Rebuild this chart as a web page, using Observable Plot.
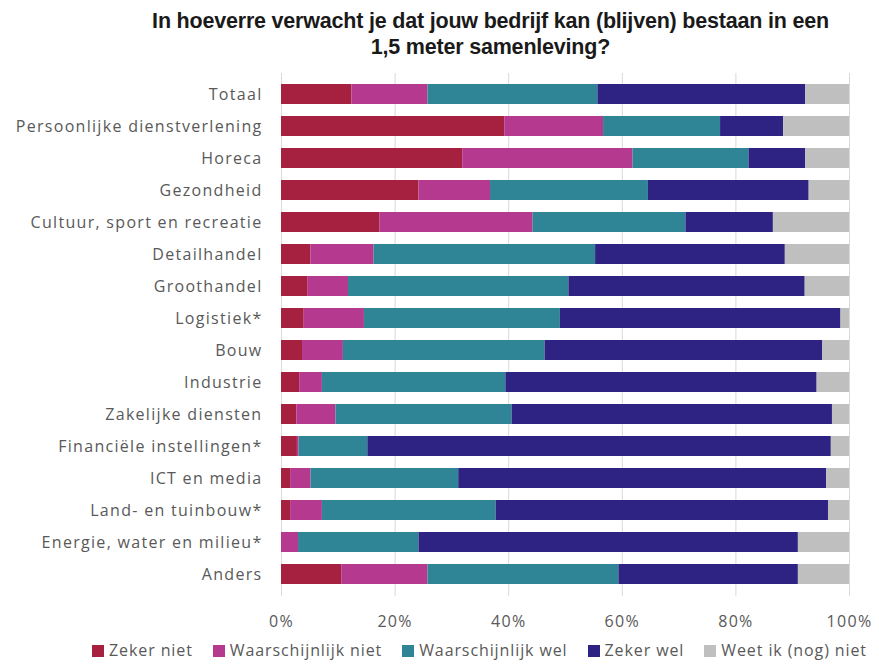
<!DOCTYPE html>
<html>
<head>
<meta charset="utf-8">
<script src="https://cdn.jsdelivr.net/npm/d3@7"></script>
<script src="https://cdn.jsdelivr.net/npm/@observablehq/plot@0.6"></script>
<style>
  body { margin: 0; background: #fff; font-family: "Open Sans", "Liberation Sans", Arial, sans-serif; }
  #title { width: 879px; box-sizing: border-box; padding-left: 102px; text-align: center; font-family: "Liberation Sans", Arial, sans-serif; font-weight: bold; font-size: 21.5px; line-height: 26px; color: #1a1a1a; padding-top: 8px; height: 62px; letter-spacing: -0.2px; }
  #chart svg { display: block; }
  #legend { width: 879px; box-sizing: border-box; padding-left: 80px; display: flex; justify-content: center; gap: 20px; font-size: 16px; letter-spacing: 0.9px; color: #595959; margin-top: 0px; line-height: 22px; }
  #legend span.sw { display: inline-block; width: 12px; height: 12px; margin-right: 5px; vertical-align: -1px; }
</style>
</head>
<body>
<div id="title">In hoeverre verwacht je dat jouw bedrijf kan (blijven) bestaan in een<br>1,5 meter samenleving?</div>
<div id="chart"></div>
<div id="legend"></div>
<script>
const categories = ["Totaal","Persoonlijke dienstverlening","Horeca","Gezondheid","Cultuur, sport en recreatie","Detailhandel","Groothandel","Logistiek*","Bouw","Industrie","Zakelijke diensten","Financiële instellingen*","ICT en media","Land- en tuinbouw*","Energie, water en milieu*","Anders"];
const series = ["Zeker niet","Waarschijnlijk niet","Waarschijnlijk wel","Zeker wel","Weet ik (nog) niet"];
const colors = ["#a6213f","#b5398f","#2f8596","#2e2383","#bfbfbf"];
const zekerNiet   = [12.4, 39.3, 31.9, 24.2, 17.3, 5.2, 4.7, 4.0, 3.7, 3.2, 2.7, 2.8, 1.6, 1.6, 0.0, 10.6];
const waarschNiet = [13.4, 17.4, 30.0, 12.6, 27.0, 11.1, 7.1, 10.6, 7.2, 4.0, 6.9, 0.3, 3.6, 5.6, 3.0, 15.2];
const waarschWel  = [29.9, 20.6, 20.4, 27.8, 26.9, 39.0, 38.8, 34.5, 35.5, 32.3, 31.0, 12.1, 26.0, 30.6, 21.2, 33.6];
const zekerWel    = [36.6, 11.1, 10.0, 28.3, 15.4, 33.4, 41.6, 49.4, 48.9, 54.8, 56.4, 81.6, 64.8, 58.5, 66.8, 31.6];
const weetNiet    = [7.7, 11.6, 7.7, 7.1, 13.4, 11.3, 7.8, 1.5, 4.7, 5.7, 3.0, 3.2, 4.0, 3.7, 9.0, 9.0];
const xTicks = [0, 20, 40, 60, 80, 100];

const valueArrays = [zekerNiet, waarschNiet, waarschWel, zekerWel, weetNiet];
const data = [];
categories.forEach((c, i) => {
  series.forEach((s, j) => data.push({category: c, series: s, value: valueArrays[j][i], order: j}));
});

const chart = Plot.plot({
  width: 879,
  height: 577,
  marginTop: 11,
  marginBottom: 43,
  marginLeft: 281,
  marginRight: 30,
  style: {fontFamily: "'Open Sans', 'Liberation Sans', Arial, sans-serif", fontSize: "16px", letterSpacing: "1.3px", color: "#595959", background: "#fff"},
  x: {domain: [0, 100], label: null},
  y: {domain: categories, paddingInner: 0.37, paddingOuter: 0.295, label: null},
  color: {domain: series, range: colors},
  marks: [
    Plot.ruleX(xTicks, {stroke: "#d9d9d9", strokeWidth: 1}),
    Plot.barX(data, Plot.stackX({x: "value", y: "category", fill: "series", order: "order"})),
    Plot.axisX({ticks: xTicks, tickFormat: d => d + "%", tickSize: 0, tickPadding: 19, fill: "#595959", label: null}),
    Plot.axisY({tickSize: 0, tickPadding: 19, fill: "#595959", label: null})
  ]
});
document.getElementById("chart").appendChild(chart);

const legend = document.getElementById("legend");
series.forEach((s, j) => {
  const item = document.createElement("div");
  item.innerHTML = `<span class="sw" style="background:${colors[j]}"></span>${s}`;
  legend.appendChild(item);
});
</script>
</body>
</html>
